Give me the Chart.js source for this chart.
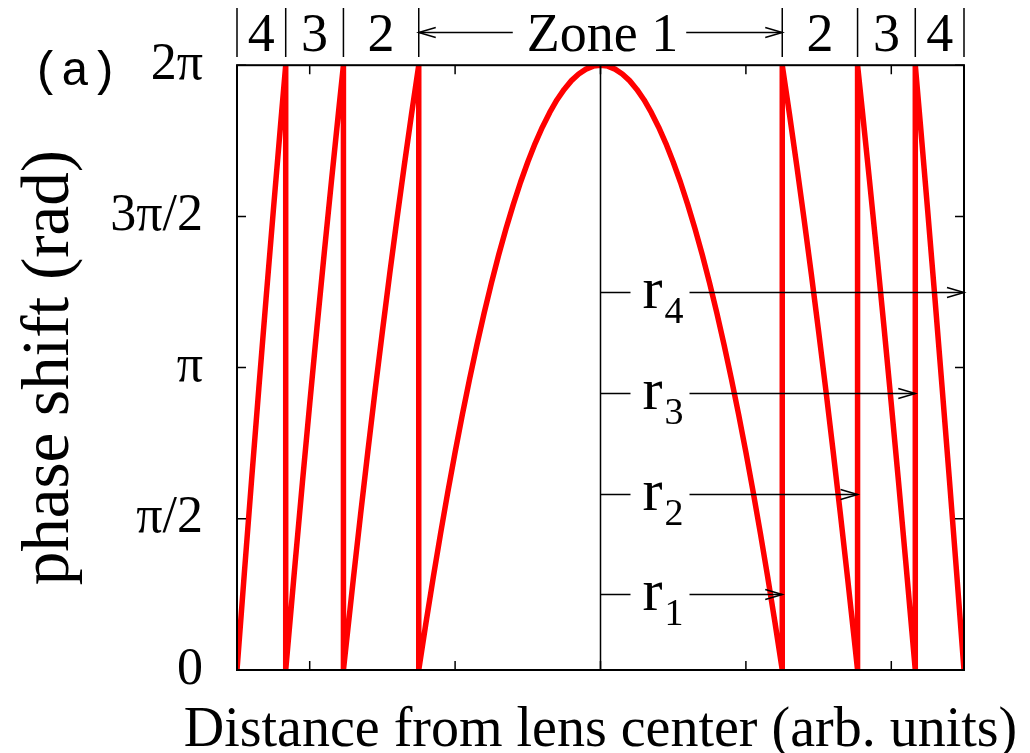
<!DOCTYPE html>
<html>
<head>
<meta charset="utf-8">
<title>Phase profile of a Fresnel zone lens</title>
<script src="https://cdn.jsdelivr.net/npm/chart.js@4.4.1/dist/chart.umd.min.js"></script>
<style>
  html, body { margin: 0; padding: 0; background: #ffffff; }
  #wrap { width: 1030px; height: 753px; position: relative; }
</style>
</head>
<body>
<div id="wrap"><canvas id="chart" width="1030" height="753"></canvas></div>
<script>
// Phase values are given in units of π (0 … 2 → 0 … 2π rad).
const phaseTickLabels = ['0', 'π/2', 'π', '3π/2', '2π'];
const distanceTicks = [-2, -1, 0, 1, 2];

// Outer radius of each zone (r1 … r4) and the zone names shown above the plot.
const zoneRadii = [1.25, 1.768, 2.165, 2.5];
const zoneNames = ['Zone 1', '2', '3', '4'];
const radiusSubscripts = ['1', '2', '3', '4'];
const radiusMarkerPhase = [0.25, 0.583, 0.917, 1.25];

const xAxisTitle = 'Distance from lens center (arb. units)';
const yAxisTitle = 'phase shift (rad)';
const panelTag = '(a)';

// Central zone, full width.
const zone1Distance = [
  -1.25, -1.2, -1.15, -1.1, -1.05, -1.0, -0.95, -0.9, -0.85, -0.8, -0.75, -0.7, -0.65,
  -0.6, -0.55, -0.5, -0.45, -0.4, -0.35, -0.3, -0.25, -0.2, -0.15, -0.1, -0.05, 0,
  0.05, 0.1, 0.15, 0.2, 0.25, 0.3, 0.35, 0.4, 0.45, 0.5, 0.55, 0.6, 0.65, 0.7,
  0.75, 0.8, 0.85, 0.9, 0.95, 1.0, 1.05, 1.1, 1.15, 1.2, 1.25
];
const zone1Phase = [
  0, 0.157, 0.307, 0.451, 0.589, 0.720, 0.845, 0.963, 1.075, 1.181, 1.280, 1.373, 1.459,
  1.539, 1.613, 1.680, 1.741, 1.795, 1.843, 1.885, 1.920, 1.949, 1.971, 1.987, 1.997, 2.0,
  1.997, 1.987, 1.971, 1.949, 1.920, 1.885, 1.843, 1.795, 1.741, 1.680, 1.613, 1.539, 1.459, 1.373,
  1.280, 1.181, 1.075, 0.963, 0.845, 0.720, 0.589, 0.451, 0.307, 0.157, 0
];

// Outer zones, one side (the lens is symmetric about its center).
const zone2Distance = [1.25, 1.3, 1.35, 1.4, 1.45, 1.5, 1.55, 1.6, 1.65, 1.7, 1.75, 1.768];
const zone2Phase    = [2.0, 1.837, 1.667, 1.491, 1.309, 1.120, 0.925, 0.723, 0.515, 0.301, 0.080, 0];
const zone3Distance = [1.768, 1.8, 1.85, 1.9, 1.95, 2.0, 2.05, 2.1, 2.165];
const zone3Phase    = [2.0, 1.853, 1.619, 1.379, 1.133, 0.880, 0.621, 0.355, 0];
const zone4Distance = [2.165, 2.2, 2.25, 2.3, 2.35, 2.4, 2.45, 2.5];
const zone4Phase    = [2.0, 1.805, 1.520, 1.229, 0.931, 0.627, 0.317, 0];

function pairs(xs, ys) { return xs.map((v, i) => ({ x: v, y: ys[i] })); }
function mirrored(xs, ys) { return pairs(xs, ys).map(p => ({ x: -p.x, y: p.y })).reverse(); }

const profile = [].concat(
  mirrored(zone4Distance, zone4Phase),
  mirrored(zone3Distance, zone3Phase),
  mirrored(zone2Distance, zone2Phase),
  pairs(zone1Distance, zone1Phase),
  pairs(zone2Distance, zone2Phase),
  pairs(zone3Distance, zone3Phase),
  pairs(zone4Distance, zone4Phase)
);

const SERIF = "'Liberation Serif', 'Times New Roman', serif";
const MONO = "'Liberation Mono', 'DejaVu Sans Mono', monospace";

function arrowHead(ctx, tipX, tipY, dir) {
  ctx.beginPath();
  ctx.moveTo(tipX - dir * 17, tipY - 5);
  ctx.lineTo(tipX, tipY);
  ctx.lineTo(tipX - dir * 17, tipY + 5);
  ctx.stroke();
}

const overlay = {
  id: 'overlay',
  afterDatasetsDraw(chart) {
    const { ctx, chartArea: a, scales: { x, y } } = chart;
    ctx.save();
    ctx.strokeStyle = '#000';
    ctx.fillStyle = '#000';

    // plot border
    ctx.lineWidth = 2;
    ctx.strokeRect(a.left, a.top, a.right - a.left, a.bottom - a.top);

    // inward tick marks on all four sides
    ctx.lineWidth = 1.5;
    ctx.beginPath();
    distanceTicks.forEach(v => {
      const px = x.getPixelForValue(v);
      ctx.moveTo(px, a.bottom); ctx.lineTo(px, a.bottom - 9);
      ctx.moveTo(px, a.top); ctx.lineTo(px, a.top + 9);
    });
    y.ticks.forEach(t => {
      const py = y.getPixelForValue(t.value);
      ctx.moveTo(a.left, py); ctx.lineTo(a.left + 9, py);
      ctx.moveTo(a.right, py); ctx.lineTo(a.right - 9, py);
    });
    ctx.stroke();

    // lens axis
    const x0 = x.getPixelForValue(0);
    ctx.beginPath();
    ctx.moveTo(x0, a.top); ctx.lineTo(x0, a.bottom);
    ctx.stroke();

    // radius markers r1 … r4
    ctx.textAlign = 'left';
    ctx.textBaseline = 'alphabetic';
    radiusMarkerPhase.forEach((ph, i) => {
      const py = Math.round(y.getPixelForValue(ph)) + 0.5;
      const tip = x.getPixelForValue(zoneRadii[i]);
      ctx.beginPath();
      ctx.moveTo(x0, py); ctx.lineTo(x0 + 30, py);
      ctx.moveTo(x0 + 89, py); ctx.lineTo(tip, py);
      ctx.stroke();
      arrowHead(ctx, tip, py, 1);
      ctx.font = '60px ' + SERIF;
      ctx.fillText('r', x0 + 42, py + 15);
      ctx.font = '38px ' + SERIF;
      ctx.fillText(radiusSubscripts[i], x0 + 64, py + 30);
    });

    // zone labels above the plot
    const edges = zoneRadii.slice().reverse().map(r => -r).concat(zoneRadii);
    const edgePx = edges.map(v => x.getPixelForValue(v));
    ctx.beginPath();
    edgePx.forEach(px => { ctx.moveTo(px, 8); ctx.lineTo(px, 57); });
    ctx.stroke();
    const names = zoneNames.slice(1).reverse().concat(zoneNames);
    ctx.font = '54px ' + SERIF;
    ctx.textAlign = 'center';
    names.forEach((name, i) => {
      const left = edgePx[i], right = edgePx[i + 1];
      const cx = (left + right) / 2;
      if (i === 3) {
        const w = ctx.measureText(name).width;
        ctx.fillText(name, cx + 2, 51);
        const ay = 32.5;
        ctx.beginPath();
        ctx.moveTo(left, ay); ctx.lineTo(cx + 2 - w / 2 - 14, ay);
        ctx.moveTo(cx + 2 + w / 2 + 8, ay); ctx.lineTo(right, ay);
        ctx.stroke();
        arrowHead(ctx, left, ay, -1);
        arrowHead(ctx, right, ay, 1);
      } else {
        ctx.fillText(name, cx, 51);
      }
    });

    // horizontal axis title, centred under the plot
    ctx.font = '56px ' + SERIF;
    ctx.textAlign = 'center';
    ctx.fillText(xAxisTitle, (a.left + a.right) / 2, 746);

    // panel tag
    ctx.textAlign = 'left';
    ctx.font = '48px ' + MONO;
    ctx.fillText(panelTag, 32, 85);
    ctx.restore();
  }
};

new Chart(document.getElementById('chart'), {
  type: 'scatter',
  data: {
    datasets: [{
      data: profile,
      showLine: true,
      borderColor: '#ff0000',
      backgroundColor: '#ff0000',
      borderWidth: 5.5,
      pointRadius: 0,
      tension: 0,
      borderJoinStyle: 'round'
    }]
  },
  options: {
    responsive: false,
    animation: false,
    devicePixelRatio: 1,
    layout: { padding: { top: 65, right: 66, left: 0, bottom: 0 } },
    plugins: { legend: { display: false }, tooltip: { enabled: false } },
    scales: {
      x: {
        type: 'linear',
        min: -2.5,
        max: 2.5,
        ticks: { display: false, stepSize: 1 },
        grid: { display: false, drawTicks: false },
        border: { display: false },
        title: { display: false },
        afterFit(scale) { scale.height = 83; }
      },
      y: {
        type: 'linear',
        min: 0,
        max: 2,
        ticks: {
          stepSize: 0.5,
          color: '#000',
          padding: 34,
          font: { family: SERIF, size: 52 },
          callback: (v, i) => phaseTickLabels[i]
        },
        grid: { display: false, drawTicks: false },
        border: { display: false },
        title: {
          display: true,
          text: yAxisTitle,
          color: '#000',
          font: { family: SERIF, size: 67, lineHeight: 1 },
          padding: { top: 17, bottom: 0 }
        },
        afterFit(scale) { scale.width = 237; }
      }
    }
  },
  plugins: [overlay]
});
</script>
</body>
</html>
